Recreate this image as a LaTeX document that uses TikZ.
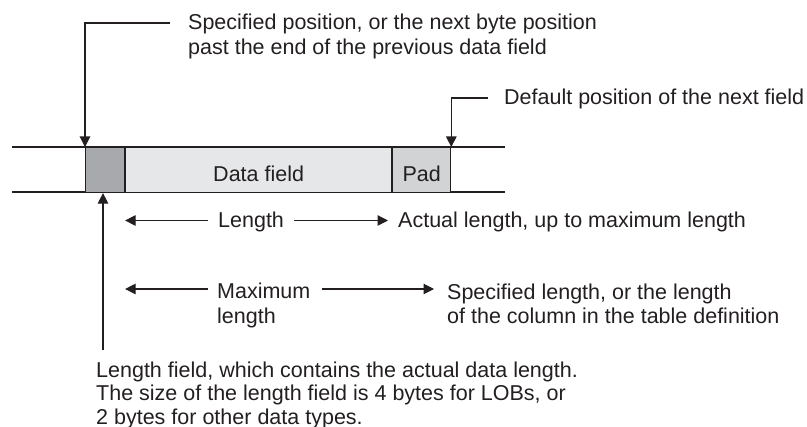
\documentclass[tikz,border=0pt]{standalone}
\usepackage{fontspec}
\setmainfont{Liberation Sans}
\usetikzlibrary{arrows.meta}
\definecolor{ink}{HTML}{231F20}
\definecolor{lenfill}{HTML}{A7A9AC}
\definecolor{datfill}{HTML}{E6E7E8}
\definecolor{padfill}{HTML}{D1D3D4}
\begin{document}
\begin{tikzpicture}[x=1pt,y=-1pt,
  wire/.style={draw=ink, line width=1.1pt},
  arr/.style={wire, -{Triangle[length=10.5pt,width=10.5pt]}},
  field/.style={draw=ink, line width=1.1pt, minimum height=45pt, inner sep=0pt,
    anchor=north west, text=ink, font=\fontsize{21.5}{24}\selectfont,
    text height=22pt, text depth=0pt},
  txt/.style={text=ink, align=left, inner sep=0pt},
  onerow/.style={txt, font=\fontsize{21.5}{24}\selectfont, text height=15pt, text depth=0pt}
]
\useasboundingbox (0,0) rectangle (807,427);

% track lines
\draw[wire] (12,147) -- (505,147);
\draw[wire] (12,192) -- (505,192);

% fields
\node[field, fill=lenfill, minimum width=39pt] (lenbox) at (85,147) {};
\node[field, fill=datfill, minimum width=266pt] (datbox) at (lenbox.north east) {Data field};
\node[field, fill=padfill, minimum width=58pt] (padbox) at (datbox.north east) {Pad};

% top callout
\node[txt, anchor=north west, font=\fontsize{21.5}{25.5}\selectfont] (spec) at (188,13.5)
  {Specified position, or the next byte position\\past the end of the previous data field};
\coordinate (speclead) at (170,23);
\draw[arr] (speclead) -| (lenbox.north west);

% default position callout
\node[onerow, anchor=base west] (deflt) at (504,105) {Default position of the next field};
\coordinate (defltlead) at (488,98);
\draw[arr] (defltlead) -| (padbox.north east);

% length row
\node[onerow, anchor=west, inner xsep=10pt] (lenlbl) at (208,220.5) {Length};
\node[onerow, anchor=west, inner xsep=10pt] (actual) at (388,220.5) {Actual length, up to maximum length};
\draw[arr] (lenlbl.west) -- (lenlbl.west -| datbox.west);
\draw[arr] (lenlbl.east) -- (actual.west);

% maximum length row
\node[txt, anchor=north west, font=\fontsize{21.5}{24.5}\selectfont] (maxlbl) at (217,283)
  {Maximum\\length};
\node[txt, anchor=north west, font=\fontsize{21.5}{23.5}\selectfont] (speclen) at (447,284)
  {Specified length, or the length\\of the column in the table definition};
\coordinate (maxW) at ([xshift=-9pt,yshift=-6pt]maxlbl.north west);
\coordinate (maxE) at ([xshift=11pt,yshift=-6pt]maxlbl.north east);
\coordinate (speclenW) at ([xshift=-13pt,yshift=-6pt]speclen.north west);
\draw[arr] (maxW) -- (maxW -| datbox.west);
\draw[arr] (maxE) -- (maxE -| speclenW);

% length field callout
\node[txt, anchor=north west, font=\fontsize{21.5}{23.3}\selectfont] (lenfld) at (96,361.7)
  {Length field, which contains the actual data length.\\The size of the length field is 4 bytes for LOBs, or\\2 bytes for other data types.};
\coordinate (lenfldlead) at (103,350);
\draw[arr] (lenfldlead) -- (lenfldlead |- lenbox.south);
\end{tikzpicture}
\end{document}
